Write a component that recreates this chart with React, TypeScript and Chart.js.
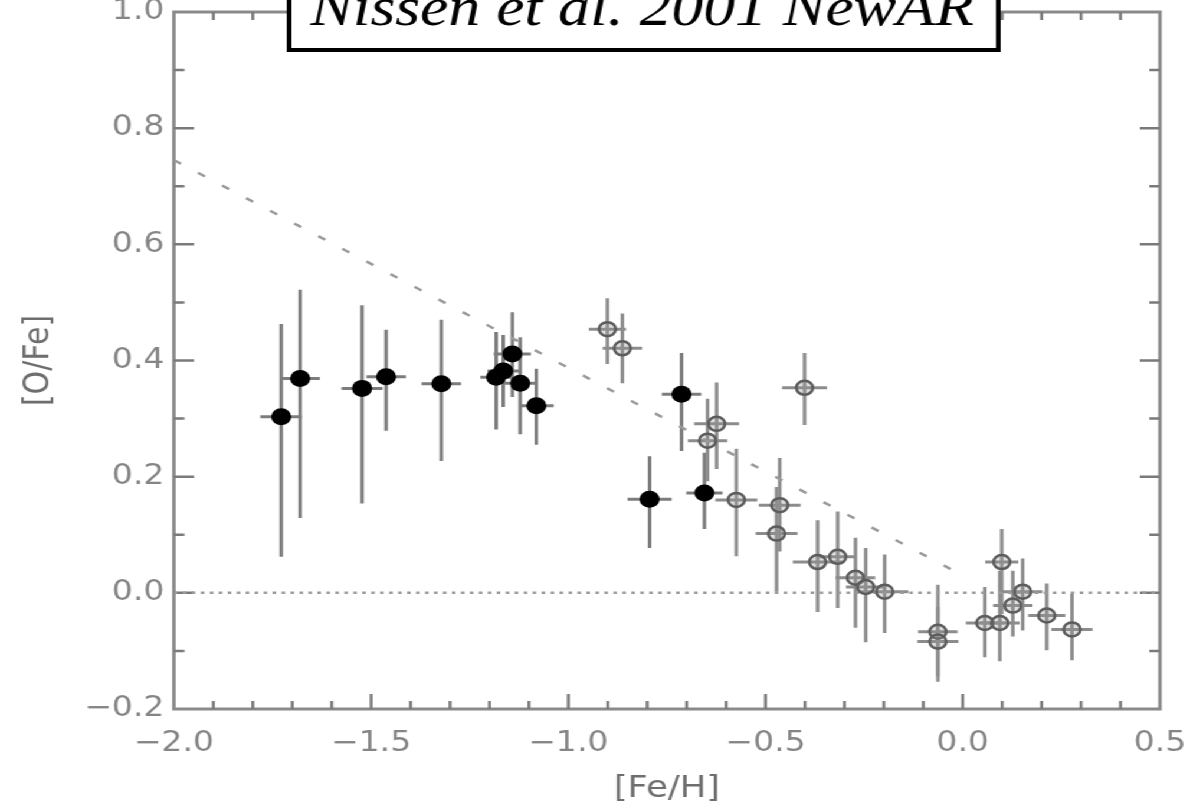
import { useEffect, useRef } from 'react';
import { Chart, registerables } from 'chart.js';

Chart.register(...registerables);

// Halo stars (filled circles): [Fe/H], [O/Fe] and their error bars
const haloFeH = [-1.728, -1.68, -1.523, -1.462, -1.322, -1.183, -1.165, -1.142, -1.122, -1.081, -0.794, -0.713, -0.655];
const haloOFe = [0.303, 0.369, 0.352, 0.372, 0.36, 0.371, 0.382, 0.411, 0.361, 0.322, 0.161, 0.342, 0.172];
const haloErrUp = [0.16, 0.153, 0.143, 0.081, 0.11, 0.078, 0.062, 0.072, 0.079, 0.064, 0.074, 0.071, 0.069];
const haloErrDown = [0.241, 0.24, 0.198, 0.093, 0.133, 0.09, 0.062, 0.074, 0.088, 0.067, 0.084, 0.098, 0.062];
const haloErrX = [0.053, 0.05, 0.052, 0.05, 0.05, 0.04, 0.04, 0.047, 0.04, 0.044, 0.056, 0.05, 0.046];

// Disk stars (open circles)
const diskFeH = [-0.901, -0.863, -0.647, -0.624, -0.574, -0.472, -0.464, -0.401, -0.368, -0.317, -0.272, -0.246, -0.198, -0.063, -0.063, 0.056, 0.094, 0.099, 0.127, 0.152, 0.213, 0.277];
const diskOFe = [0.454, 0.421, 0.262, 0.291, 0.16, 0.102, 0.151, 0.353, 0.053, 0.062, 0.026, 0.01, 0.002, -0.067, -0.084, -0.052, -0.052, 0.053, -0.022, 0.002, -0.039, -0.063];
const diskErrUp = [0.053, 0.06, 0.072, 0.071, 0.088, 0.08, 0.081, 0.06, 0.072, 0.078, 0.069, 0.067, 0.064, 0.081, 0.06, 0.062, 0.09, 0.057, 0.06, 0.057, 0.055, 0.062];
const diskErrDown = [0.06, 0.06, 0.07, 0.078, 0.097, 0.1, 0.08, 0.064, 0.086, 0.088, 0.086, 0.095, 0.071, 0.086, 0.06, 0.059, 0.066, 0.09, 0.053, 0.067, 0.06, 0.053];
const diskErrX = [0.047, 0.05, 0.05, 0.057, 0.053, 0.053, 0.053, 0.057, 0.063, 0.047, 0.05, 0.05, 0.06, 0.05, 0.052, 0.048, 0.05, 0.042, 0.05, 0.05, 0.047, 0.052];

// Dashed trend line and solar reference line
const trendFeH = [-2.0, 0.0];
const trendOFe = [0.745, 0.03];
const solarFeH = [-2.0, 0.5];
const solarOFe = [0.0, 0.0];

// Axes
const X_MIN = -2.0;
const X_MAX = 0.5;
const Y_MIN = -0.2;
const Y_MAX = 1.0;
const X_STEP = 0.5;
const Y_STEP = 0.2;
const xLabel = '[Fe/H]';
const yLabel = '[O/Fe]';
const titleText = 'Nissen et al. 2001 NewAR';

const fmt = (v: number) => {
  const n = Math.abs(v) < 1e-9 ? 0 : v;
  return n.toFixed(1).replace('-', '\u2212');
};

const toPoints = (xs: number[], ys: number[]) => xs.map((x, i) => ({ x, y: ys[i] }));

// Box and inward tick marks on all four sides
const framePlugin = {
  id: 'frame',
  beforeDatasetsDraw(chart: any) {
    const { ctx, chartArea: a, scales } = chart;
    const x = scales.x;
    const y = scales.y;
    ctx.save();
    ctx.strokeStyle = '#8a8a8a';
    ctx.lineWidth = 3;
    ctx.strokeRect(a.left, a.top, a.right - a.left, a.bottom - a.top);
    ctx.strokeStyle = '#7a7a7a';
    ctx.lineWidth = 2.5;
    ctx.beginPath();
    const nx = Math.round((X_MAX - X_MIN) / 0.1);
    for (let k = 1; k < nx; k++) {
      const px = x.getPixelForValue(X_MIN + k * 0.1);
      const len = k % 5 === 0 ? 15 : 8;
      ctx.moveTo(px, a.bottom);
      ctx.lineTo(px, a.bottom - len);
      ctx.moveTo(px, a.top);
      ctx.lineTo(px, a.top + len);
    }
    const ny = Math.round((Y_MAX - Y_MIN) / 0.1);
    for (let k = 1; k < ny; k++) {
      const py = y.getPixelForValue(Y_MIN + k * 0.1);
      const len = k % 2 === 0 ? 17 : 9;
      ctx.moveTo(a.left, py);
      ctx.lineTo(a.left + len, py);
      ctx.moveTo(a.right, py);
      ctx.lineTo(a.right - len, py);
    }
    ctx.stroke();
    ctx.restore();
  },
};

// Vertical and horizontal error bars under each marker
const errorBarPlugin = {
  id: 'errorBars',
  beforeDatasetsDraw(chart: any) {
    const { ctx, scales } = chart;
    const x = scales.x;
    const y = scales.y;
    ctx.save();
    ctx.lineWidth = 3;
    ctx.lineCap = 'butt';
    chart.data.datasets.forEach((ds: any) => {
      if (!ds.errors) return;
      const { up, down, dx } = ds.errors;
      ctx.strokeStyle = ds.errorColor;
      ds.data.forEach((p: any, i: number) => {
        const px = x.getPixelForValue(p.x);
        const py = y.getPixelForValue(p.y);
        ctx.beginPath();
        ctx.moveTo(px, y.getPixelForValue(p.y + up[i]));
        ctx.lineTo(px, y.getPixelForValue(p.y - down[i]));
        ctx.moveTo(x.getPixelForValue(p.x - dx[i]), py);
        ctx.lineTo(x.getPixelForValue(p.x + dx[i]), py);
        ctx.stroke();
      });
    });
    ctx.restore();
  },
};

// Boxed reference caption across the top edge
const captionPlugin = {
  id: 'caption',
  afterDraw(chart: any) {
    const { ctx } = chart;
    ctx.save();
    ctx.fillStyle = '#ffffff';
    ctx.fillRect(245, -10, 601, 60);
    ctx.strokeStyle = '#000000';
    ctx.lineWidth = 4;
    ctx.strokeRect(245, -10, 601, 60);
    ctx.fillStyle = '#000000';
    ctx.font = 'italic 54px "Liberation Serif", "Times New Roman", serif';
    ctx.textBaseline = 'alphabetic';
    ctx.textAlign = 'left';
    ctx.fillText(titleText, 263, 25);
    ctx.restore();
  },
};

export default function App() {
  const ref = useRef<HTMLCanvasElement>(null);

  useEffect(() => {
    const tickFont = { family: '"DejaVu Sans", sans-serif', size: 28 };
    const titleFont = { family: '"DejaVu Sans", sans-serif', size: 30 };
    const chart = new Chart(ref.current as HTMLCanvasElement, {
      type: 'scatter',
      data: {
        datasets: [
          {
            label: 'halo',
            data: toPoints(haloFeH, haloOFe),
            pointRadius: 8.5,
            pointBackgroundColor: '#000000',
            pointBorderColor: '#000000',
            pointBorderWidth: 0,
            order: 1,
            errors: { up: haloErrUp, down: haloErrDown, dx: haloErrX },
            errorColor: '#7c7c7c',
          } as any,
          {
            label: 'disk',
            data: toPoints(diskFeH, diskOFe),
            pointRadius: 7,
            pointBackgroundColor: 'rgba(150,150,150,0.3)',
            pointBorderColor: '#5c5c5c',
            pointBorderWidth: 2.5,
            order: 2,
            errors: { up: diskErrUp, down: diskErrDown, dx: diskErrX },
            errorColor: '#8c8c8c',
          } as any,
          {
            label: 'trend',
            data: toPoints(trendFeH, trendOFe),
            showLine: true,
            borderColor: '#9a9a9a',
            borderWidth: 2.5,
            borderDash: [7, 17],
            pointRadius: 0,
            order: 3,
          },
          {
            label: 'solar',
            data: toPoints(solarFeH, solarOFe),
            showLine: true,
            borderColor: '#9a9a9a',
            borderWidth: 2.5,
            borderDash: [3, 4.6],
            pointRadius: 0,
            order: 4,
          },
        ],
      },
      options: {
        responsive: false,
        animation: false,
        events: [],
        layout: { padding: { left: 0, top: 12, right: 27, bottom: 0 } },
        plugins: {
          legend: { display: false },
          tooltip: { enabled: false },
        },
        scales: {
          x: {
            type: 'linear',
            min: X_MIN,
            max: X_MAX,
            grid: { display: false, drawTicks: false },
            border: { display: false },
            ticks: {
              stepSize: X_STEP,
              autoSkip: false,
              maxRotation: 0,
              padding: 18,
              color: '#858585',
              font: tickFont,
              callback: (v: any) => fmt(Number(v)),
            },
            title: {
              display: true,
              text: xLabel,
              color: '#6e6e6e',
              font: titleFont,
              padding: { top: 0, bottom: 0 },
            },
            afterFit: (s: any) => {
              s.height = 98;
              s.paddingLeft = 0;
              s.paddingRight = 0;
            },
          },
          y: {
            type: 'linear',
            min: Y_MIN,
            max: Y_MAX,
            grid: { display: false, drawTicks: false },
            border: { display: false },
            ticks: {
              stepSize: Y_STEP,
              autoSkip: false,
              padding: 8,
              color: '#858585',
              font: tickFont,
              callback: (v: any) => fmt(Number(v)),
            },
            title: {
              display: true,
              text: yLabel,
              color: '#6e6e6e',
              font: titleFont,
              padding: { top: 15, bottom: 0 },
            },
            afterFit: (s: any) => {
              s.width = 147.4;
              s.paddingTop = 0;
              s.paddingBottom = 0;
            },
          },
        },
      },
      plugins: [framePlugin, errorBarPlugin, captionPlugin],
    });
    return () => chart.destroy();
  }, []);

  return (
    <div
      style={{
        position: 'absolute',
        left: 0,
        top: 0,
        width: 1010,
        height: 807,
        background: '#ffffff',
        transform: 'scaleX(1.18)',
        transformOrigin: '0 0',
      }}
    >
      <canvas ref={ref} width={1010} height={807} style={{ display: 'block' }} />
    </div>
  );
}
